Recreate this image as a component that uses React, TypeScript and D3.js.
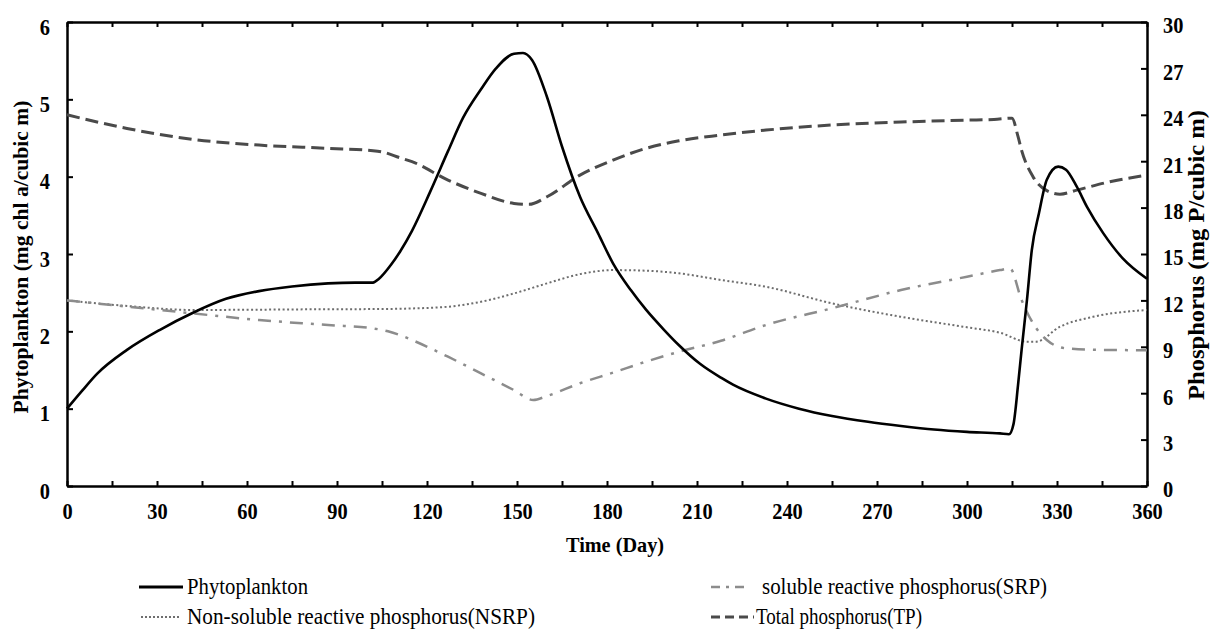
import * as d3 from "d3";
import { useEffect, useRef } from "react";

// values
const phytoDays = [0, 5, 10, 20, 31, 42, 53, 64, 75, 87, 96, 102, 104, 108, 111, 115, 121, 127, 132, 138, 143, 149, 152, 155, 160, 165, 171, 177, 182, 188, 193, 199, 204, 211, 218, 222, 233, 244, 255, 267, 278, 289, 300, 311, 314, 315.5, 317, 318.2, 320, 321.6, 324, 326.6, 330.4, 333, 336.6, 340, 345.4, 352, 360];
const phytoValues = [1.0, 1.23, 1.45, 1.76, 2.02, 2.24, 2.42, 2.52, 2.58, 2.62, 2.63, 2.63, 2.68, 2.86, 3.03, 3.3, 3.8, 4.33, 4.76, 5.13, 5.4, 5.59, 5.6, 5.51, 5.03, 4.39, 3.74, 3.27, 2.88, 2.53, 2.28, 2.02, 1.82, 1.58, 1.4, 1.31, 1.13, 1.0, 0.905, 0.83, 0.776, 0.73, 0.7, 0.68, 0.67, 0.8, 1.3, 1.76, 2.41, 3.05, 3.53, 3.96, 4.13, 4.09, 3.87, 3.61, 3.27, 2.94, 2.68];

const tpDays = [0, 20, 42, 64, 87, 102, 105, 111, 115, 127, 138, 149, 154, 160, 171, 182, 193, 204, 218, 233, 255, 278, 300, 309, 315, 317, 318.2, 322, 326.6, 331, 336.6, 347.6, 360];
const tpValues = [24.0, 23.12, 22.41, 22.04, 21.83, 21.68, 21.6, 21.22, 20.97, 19.78, 18.92, 18.27, 18.21, 18.7, 20.1, 21.07, 21.83, 22.32, 22.69, 23.01, 23.34, 23.53, 23.66, 23.7, 23.78, 22.6, 21.7, 20.0, 19.1, 18.87, 19.13, 19.67, 20.1];

const srpDays = [0, 20, 42, 64, 87, 102, 107, 111, 115, 127, 138, 149, 155.4, 160, 171, 182, 193, 204, 218, 233, 255, 278, 300, 311, 314.3, 318.2, 322, 326.6, 333, 345, 360];
const srpValues = [12.0, 11.6, 11.16, 10.73, 10.41, 10.19, 10.0, 9.76, 9.44, 8.36, 7.28, 6.2, 5.56, 5.82, 6.64, 7.33, 8.04, 8.68, 9.39, 10.41, 11.49, 12.67, 13.53, 13.96, 14.07, 12.02, 10.52, 9.44, 8.9, 8.8, 8.78];

const nsrpDays = [0, 20, 42, 64, 87, 104, 115, 127, 138, 149, 160, 171, 182, 193, 204, 218, 233, 255, 278, 300, 311, 320, 323, 331, 342, 360];
const nsrpValues = [12.0, 11.64, 11.38, 11.4, 11.43, 11.44, 11.48, 11.59, 11.91, 12.45, 13.1, 13.7, 13.96, 13.92, 13.75, 13.32, 12.88, 11.81, 10.94, 10.26, 9.91, 9.33, 9.33, 10.3, 10.94, 11.38];

const xTickLabels = [0, 30, 60, 90, 120, 150, 180, 210, 240, 270, 300, 330, 360];
const leftTickLabels = [0, 1, 2, 3, 4, 5, 6];
const rightTickLabels = [0, 3, 6, 9, 12, 15, 18, 21, 24, 27, 30];

const FONT = "Liberation Serif, Times New Roman, serif";

function PhosphorusChart() {
	const ref = useRef<SVGSVGElement | null>(null);

	useEffect(() => {
		const svg = d3.select(ref.current);
		svg.selectAll("*").remove();

		const left = 67, right = 1147, top = 22, bottom = 486;
		const squeeze = 0.85; // the figure's lettering is horizontally condensed

		const x = d3.scaleLinear().domain([0, 360]).range([left, right]);
		const yL = d3.scaleLinear().domain([0, 6]).range([bottom, top]);
		const yR = d3.scaleLinear().domain([0, 30]).range([bottom, top]);

		const styleAxis = (g: any) => {
			g.select(".domain").attr("stroke", "#000").attr("stroke-width", 2.5);
			g.selectAll(".tick line").attr("stroke", "#000").attr("stroke-width", 2);
			g.selectAll("text").attr("font-family", FONT).attr("font-weight", "bold").attr("font-size", 24).attr("fill", "#000");
		};

		// Bottom axis
		const minorX = d3.range(0, 361, 15);
		const gx = svg.append("g").attr("transform", `translate(0,${bottom})`)
			.call(d3.axisBottom(x).tickValues(minorX).tickSizeInner(-5).tickSizeOuter(0)
				.tickFormat((d: any) => (xTickLabels.includes(d) ? String(d) : "")));
		styleAxis(gx);
		gx.selectAll("text").attr("y", 33).attr("dy", null).attr("transform", `scale(${squeeze},1)`);

		// Top border
		const gt = svg.append("g").attr("transform", `translate(0,${top})`)
			.call(d3.axisTop(x).tickValues(minorX).tickSizeInner(-5).tickSizeOuter(0).tickFormat(() => ""));
		styleAxis(gt);

		// Left axis
		const gl = svg.append("g").attr("transform", `translate(${left},0)`)
			.call(d3.axisLeft(yL).tickValues(leftTickLabels).tickSizeInner(-6).tickSizeOuter(0).tickFormat((d: any) => String(d)));
		styleAxis(gl);
		gl.selectAll("text").attr("x", -17 / squeeze).attr("dy", "0.5em").attr("transform", `scale(${squeeze},1)`);

		// Right axis
		const gr = svg.append("g").attr("transform", `translate(${right},0)`)
			.call(d3.axisRight(yR).tickValues(rightTickLabels).tickSizeInner(-6).tickSizeOuter(0).tickFormat((d: any) => String(d)));
		styleAxis(gr);
		gr.selectAll("text").attr("x", 16 / squeeze).attr("dy", "0.45em").attr("transform", `scale(${squeeze},1)`);

		const draw = (days: number[], vals: number[], yScale: any, stroke: string, width: number, dash: string | null) => {
			const pts: [number, number][] = days.map((d, i) => [d, vals[i]]);
			const line = d3.line<[number, number]>().x(d => x(d[0])).y(d => yScale(d[1])).curve(d3.curveMonotoneX);
			svg.append("path").datum(pts).attr("fill", "none").attr("stroke", stroke)
				.attr("stroke-width", width).attr("stroke-dasharray", dash).attr("d", line);
		};

		draw(nsrpDays, nsrpValues, yR, "#6e6e6e", 2, "2,2.5");
		draw(srpDays, srpValues, yR, "#8c8c8c", 2.5, "13,8,3,8");
		draw(tpDays, tpValues, yR, "#4a4a4a", 3, "13,6");
		draw(phytoDays, phytoValues, yL, "#000", 2.6, null);

		// Axis titles
		svg.append("text").attr("transform", "translate(28,257) rotate(-90)").attr("text-anchor", "middle")
			.attr("font-family", FONT).attr("font-weight", "bold").attr("font-size", 22)
			.attr("textLength", 313).attr("lengthAdjust", "spacingAndGlyphs")
			.text("Phytoplankton (mg chl a/cubic m)");
		svg.append("text").attr("transform", "translate(1204,255) rotate(-90)").attr("text-anchor", "middle")
			.attr("font-family", FONT).attr("font-weight", "bold").attr("font-size", 24)
			.attr("textLength", 290).attr("lengthAdjust", "spacingAndGlyphs")
			.text("Phosphorus (mg P/cubic m)");
		svg.append("text").attr("x", 615).attr("y", 552).attr("text-anchor", "middle")
			.attr("font-family", FONT).attr("font-weight", "bold").attr("font-size", 21)
			.attr("textLength", 98).attr("lengthAdjust", "spacingAndGlyphs")
			.text("Time (Day)");

		// Legend
		const legend = [
			{ label: "Phytoplankton", x1: 139, x2: 183, tx: 187, y: 587, w: 121, stroke: "#000", sw: 3, dash: null },
			{ label: "Non-soluble reactive phosphorus(NSRP)", x1: 141, x2: 181, tx: 187, y: 617, w: 348, stroke: "#6e6e6e", sw: 2, dash: "2,2" },
			{ label: "soluble reactive phosphorus(SRP)", x1: 711, x2: 750, tx: 762, y: 587, w: 285, stroke: "#8c8c8c", sw: 2.5, dash: "9,6,3,6" },
			{ label: "Total phosphorus(TP)", x1: 711, x2: 754, tx: 756, y: 617, w: 166, stroke: "#4a4a4a", sw: 3, dash: "9,5" },
		];
		legend.forEach(l => {
			svg.append("line").attr("x1", l.x1).attr("x2", l.x2).attr("y1", l.y).attr("y2", l.y)
				.attr("stroke", l.stroke).attr("stroke-width", l.sw).attr("stroke-dasharray", l.dash);
			svg.append("text").attr("x", l.tx).attr("y", l.y + 7).attr("font-family", FONT).attr("font-size", 23)
				.attr("textLength", l.w).attr("lengthAdjust", "spacingAndGlyphs").text(l.label);
		});
	}, []);

	return <svg ref={ref} width={1212} height={634} style={{ position: "absolute", left: 0, top: 0, background: "#fff" }} />;
}

export default function App() {
	return <PhosphorusChart />;
}
